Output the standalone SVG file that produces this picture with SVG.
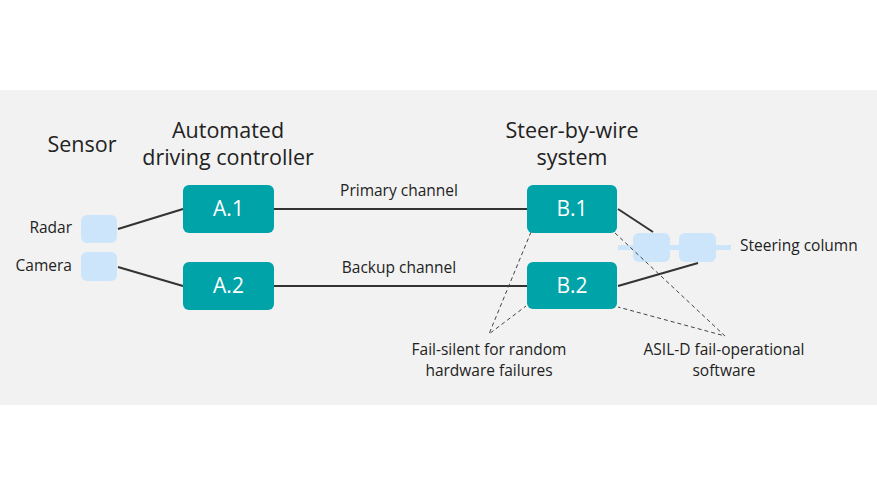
<svg xmlns="http://www.w3.org/2000/svg" width="877" height="493" viewBox="0 0 877 493">
<style>
text{font-family:"Open Sans","Noto Sans","DejaVu Sans",sans-serif;fill:#222}
.h{font-size:21.5px;text-anchor:middle}
.s{font-size:15.5px}
.m{text-anchor:middle}
.e{text-anchor:end}
.n{fill:#00a3a8}
.l{fill:#fff;font-size:21px;text-anchor:middle}
.sb{fill:#cce5fb}
.c{stroke:#333;stroke-width:2;fill:none}
.d{stroke:#444;stroke-width:1;stroke-dasharray:4 3;fill:none}
</style>
<rect x="0" y="0" width="877" height="493" fill="#fff"/>
<rect x="0" y="90" width="877" height="315" fill="#f2f2f2"/>
<g id="titles">
<text class="h" x="82" y="152">Sensor</text>
<text class="h" x="228" y="138">Automated<tspan x="228" dy="27">driving controller</tspan></text>
<text class="h" x="572" y="138">Steer-by-wire<tspan x="572" dy="27">system</tspan></text>
</g>
<g id="steering-column">
<rect x="618" y="245" width="113" height="5" class="sb"/>
<rect x="633" y="233" width="37" height="29" rx="6" class="sb"/>
<rect x="679" y="233" width="37" height="29" rx="6" class="sb"/>
<text class="s" x="740" y="251">Steering column</text>
</g>
<g id="connectors">
<line class="c" x1="118" y1="229" x2="183" y2="209"/>
<line class="c" x1="118" y1="267" x2="183" y2="286"/>
<line class="c" x1="274" y1="209" x2="527" y2="209"/>
<line class="c" x1="274" y1="286" x2="527" y2="286"/>
<line class="c" x1="618" y1="209" x2="653" y2="232"/>
<line class="c" x1="618" y1="286" x2="698" y2="263"/>
<polyline class="d" points="531,232 489,334 526,306"/>
<polyline class="d" points="615,233 725,336 618,307"/>
<text class="s m" x="399" y="196">Primary channel</text>
<text class="s m" x="399" y="273">Backup channel</text>
</g>
<g id="radar">
<rect x="81" y="215" width="36" height="28" rx="6" class="sb"/>
<text class="s e" x="72" y="233">Radar</text>
</g>
<g id="camera">
<rect x="81" y="252" width="36" height="29" rx="6" class="sb"/>
<text class="s e" x="72" y="271">Camera</text>
</g>
<g id="A1">
<rect x="183" y="185" width="91" height="48" rx="6" class="n"/>
<text class="l" x="228.5" y="216">A.1</text>
</g>
<g id="A2">
<rect x="183" y="262" width="91" height="48" rx="6" class="n"/>
<text class="l" x="228.5" y="293">A.2</text>
</g>
<g id="B1">
<rect x="527" y="185" width="90" height="48" rx="6" class="n"/>
<text class="l" x="572" y="216">B.1</text>
</g>
<g id="B2">
<rect x="527" y="262" width="90" height="47" rx="6" class="n"/>
<text class="l" x="572" y="293">B.2</text>
</g>
<g id="fail-silent">
<text class="s m" x="489" y="355">Fail-silent for random<tspan x="489" dy="21">hardware failures</tspan></text>
</g>
<g id="asil-d">
<text class="s m" x="724" y="355">ASIL-D fail-operational<tspan x="724" dy="21">software</tspan></text>
</g>
</svg>
